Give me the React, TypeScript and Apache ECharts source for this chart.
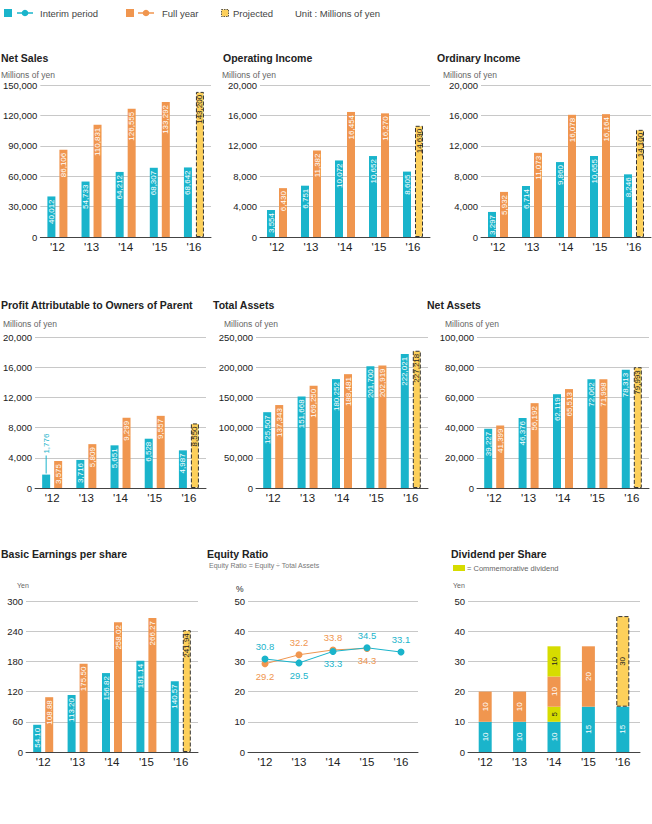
import React, { useEffect, useRef } from 'react';
import * as echarts from 'echarts';

const CYAN = '#1ab4cb';
const ORANGE = '#f0964f';
const PROJ = '#fdd05b';
const COMM = '#d6dc00';
const FONT = '"Liberation Sans", Arial, Helvetica, sans-serif';

const years = ["'12", "'13", "'14", "'15", "'16"];

const netSalesInterim = [40012, 54733, 64212, 68307, 68642];
const netSalesFull = [86106, 110831, 126555, 133292, 143200];
const opIncomeInterim = [3554, 6751, 10072, 10652, 8605];
const opIncomeFull = [6430, 11382, 16454, 16270, 14630];
const ordIncomeInterim = [3297, 6714, 9860, 10655, 8246];
const ordIncomeFull = [5932, 11073, 16078, 16164, 14100];
const profitInterim = [1776, 3716, 5651, 6528, 4987];
const profitFull = [3575, 5809, 9299, 9557, 8550];
const totalAssetsInterim = [125507, 151668, 180252, 201700, 222021];
const totalAssetsFull = [137343, 169250, 188481, 202919, 227218];
const netAssetsInterim = [39227, 46376, 62119, 72062, 78313];
const netAssetsFull = [41399, 56192, 65513, 71998, 79993];
const epsInterim = [54.10, 113.20, 156.82, 181.14, 140.57];
const epsFull = [108.88, 175.50, 258.02, 266.27, 241.94];
const equityInterim = [30.8, 29.5, 33.3, 34.5, 33.1];
const equityFull = [29.2, 32.2, 33.8, 34.3, null];
const divInterim = [10, 10, 10, 15, 15];
const divCommInterim = [null, null, 5, null, null];
const divFull = [10, 10, 10, 20, 30];
const divCommFull = [null, null, 10, null, null];
const projectedIndex = 4;

const fmtInt = (v: number) => Number(v).toLocaleString('en-US');
const fmt2 = (v: number) => Number(v).toFixed(2);

type Panel = {
  title: string; unit: string; tx: number; ty: number; ux: number; uy: number;
  grid: { left: number; top: number; width: number; height: number };
  max: number; interval: number;
};

const panels: Panel[] = [
  { title: 'Net Sales', unit: 'Millions of yen', tx: 1, ty: 58, ux: 1, uy: 75, grid: { left: 40, top: 85, width: 171, height: 152 }, max: 150000, interval: 30000 },
  { title: 'Operating Income', unit: 'Millions of yen', tx: 223, ty: 58, ux: 222, uy: 75, grid: { left: 260, top: 85, width: 170, height: 152 }, max: 20000, interval: 4000 },
  { title: 'Ordinary Income', unit: 'Millions of yen', tx: 437, ty: 58, ux: 443, uy: 75, grid: { left: 481, top: 85, width: 170, height: 152 }, max: 20000, interval: 4000 },
  { title: 'Profit Attributable to Owners of Parent', unit: 'Millions of yen', tx: 1, ty: 305, ux: 3, uy: 324, grid: { left: 34, top: 337, width: 172, height: 151 }, max: 20000, interval: 4000 },
  { title: 'Total Assets', unit: 'Millions of yen', tx: 213, ty: 305, ux: 224, uy: 324, grid: { left: 256, top: 337, width: 172, height: 151 }, max: 250000, interval: 50000 },
  { title: 'Net Assets', unit: 'Millions of yen', tx: 427, ty: 305, ux: 445, uy: 324, grid: { left: 477, top: 337, width: 172, height: 151 }, max: 100000, interval: 20000 },
  { title: 'Basic Earnings per share', unit: 'Yen', tx: 1, ty: 554, ux: 17, uy: 585, grid: { left: 26, top: 601, width: 172, height: 151 }, max: 300, interval: 60 },
  { title: 'Equity Ratio', unit: '%', tx: 207, ty: 554, ux: 236, uy: 589, grid: { left: 248, top: 601, width: 170, height: 151 }, max: 50, interval: 10 },
  { title: 'Dividend per Share', unit: 'Yen', tx: 451, ty: 554, ux: 453, uy: 585, grid: { left: 468, top: 601, width: 172, height: 151 }, max: 50, interval: 10 },
];

function insideLabel(color: string, f: (v: number) => string, fontSize = 8) {
  return {
    show: true, position: 'insideTop', rotate: 90, align: 'right', verticalAlign: 'middle',
    distance: 3, color, fontSize, fontFamily: FONT,
    formatter: (p: any) => f(p.value),
  };
}

const projStyle = { color: PROJ, borderColor: '#333', borderWidth: 1, borderType: 'dashed' };

function barPair(idx: number, interim: number[], full: number[], f: (v: number) => string, special?: boolean) {
  const interimData: any[] = interim.map((v, i) => {
    if (special && i === 0) {
      // value too small to fit inside: label placed above with a leader line
      return {
        value: v,
        label: {
          position: 'top', distance: 1, align: 'left', verticalAlign: 'middle', rotate: 90,
          formatter: (p: any) => `{l|}{v|${f(p.value)}}`,
          rich: {
            l: { width: 18, height: 1, backgroundColor: CYAN },
            v: { color: CYAN, fontSize: 8, fontFamily: FONT, padding: [0, 0, 0, 2] },
          },
        },
      };
    }
    return v;
  });
  const fullData: any[] = full.map((v, i) =>
    i === projectedIndex ? { value: v, itemStyle: projStyle, label: { color: '#222' } } : v,
  );
  return [
    {
      type: 'bar', name: 'Interim period', xAxisIndex: idx, yAxisIndex: idx, data: interimData,
      barWidth: 8, barGap: '50%', itemStyle: { color: CYAN }, label: insideLabel('#fff', f),
    },
    {
      type: 'bar', name: 'Full year', xAxisIndex: idx, yAxisIndex: idx, data: fullData,
      barWidth: 8, barGap: '50%', itemStyle: { color: ORANGE }, label: insideLabel('#fff', f),
    },
  ];
}

function buildOption() {
  const grids = panels.map((p) => ({ ...p.grid }));
  const xAxes = panels.map((p, i) => ({
    type: 'category', gridIndex: i, data: years,
    axisTick: { show: false },
    axisLine: { show: true, lineStyle: { color: '#444', width: 1 } },
    axisLabel: { fontSize: 11.5, color: '#222', fontFamily: FONT, margin: 4 },
  }));
  const yAxes = panels.map((p, i) => ({
    type: 'value', gridIndex: i, min: 0, max: p.max, interval: p.interval,
    axisLine: { show: false }, axisTick: { show: false },
    splitLine: { show: true, lineStyle: { color: '#c8c8c8', width: 1 } },
    axisLabel: {
      fontSize: 9.5, color: '#222', fontFamily: FONT, margin: 3,
      formatter: (v: number) => (p.max >= 1000 ? fmtInt(v) : String(v)),
    },
  }));

  const series: any[] = [
    ...barPair(0, netSalesInterim, netSalesFull, fmtInt),
    ...barPair(1, opIncomeInterim, opIncomeFull, fmtInt),
    ...barPair(2, ordIncomeInterim, ordIncomeFull, fmtInt),
    ...barPair(3, profitInterim, profitFull, fmtInt, true),
    ...barPair(4, totalAssetsInterim, totalAssetsFull, fmtInt),
    ...barPair(5, netAssetsInterim, netAssetsFull, fmtInt),
    ...barPair(6, epsInterim, epsFull, fmt2),
  ];

  const cyanPos = ['top', 'bottom', 'bottom', 'top', 'top'];
  const orangePos = ['bottom', 'top', 'top', 'bottom', 'top'];
  const lineLabel = (color: string) => ({
    show: true, color, fontSize: 9.5, fontFamily: FONT, distance: 4,
    formatter: (p: any) => Number(p.value).toFixed(1),
  });
  series.push({
    type: 'line', name: 'Full year', xAxisIndex: 7, yAxisIndex: 7,
    data: equityFull.map((v, i) => ({ value: v, label: { position: orangePos[i] } })),
    symbol: 'circle', symbolSize: 7, itemStyle: { color: ORANGE },
    lineStyle: { color: ORANGE, width: 1 }, label: lineLabel(ORANGE),
  });
  series.push({
    type: 'line', name: 'Interim period', xAxisIndex: 7, yAxisIndex: 7,
    data: equityInterim.map((v, i) => ({ value: v, label: { position: cyanPos[i] } })),
    symbol: 'circle', symbolSize: 7, itemStyle: { color: CYAN },
    lineStyle: { color: CYAN, width: 1 }, label: lineLabel(CYAN),
  });

  const divLabel = (color: string) => ({
    show: true, position: 'inside', rotate: 90, color, fontSize: 8, fontFamily: FONT,
    formatter: (p: any) => String(p.value),
  });
  const divBar = (name: string, data: any[], color: string, labelColor: string) => ({
    type: 'bar', name, xAxisIndex: 8, yAxisIndex: 8, stack: 'div', barWidth: 13,
    data, itemStyle: { color }, label: divLabel(labelColor),
  });
  series.push(divBar('Interim period', divInterim, CYAN, '#fff'));
  series.push(divBar('Commemorative (interim)', divCommInterim, COMM, '#222'));
  series.push(divBar('Full year', divFull.map((v, i) =>
    i === projectedIndex ? { value: v, itemStyle: projStyle, label: { color: '#222' } } : v), ORANGE, '#fff'));
  series.push(divBar('Commemorative (full)', divCommFull, COMM, '#222'));

  const txt = (text: string, x: number, y: number, font: string, fill: string) => ({
    type: 'text', x, y, silent: true,
    style: { text, font, fill, verticalAlign: 'middle', align: 'left' },
  });

  const graphic: any[] = [];
  panels.forEach((p) => {
    graphic.push(txt(p.title, p.tx, p.ty, `bold 10.5px ${FONT}`, '#222'));
    graphic.push(txt(p.unit, p.ux, p.uy, `${p.unit === '%' ? 8.5 : p.unit === 'Yen' ? 7 : 8.5}px ${FONT}`, p.unit === '%' ? '#222' : '#666'));
  });
  graphic.push(txt('Equity Ratio = Equity ÷ Total Assets', 209, 565, `7px ${FONT}`, '#777'));
  graphic.push({ type: 'rect', shape: { x: 453, y: 565, width: 12, height: 6 }, style: { fill: COMM } });
  graphic.push(txt('= Commemorative dividend', 467, 568, `7.5px ${FONT}`, '#666'));

  // top legend
  graphic.push({ type: 'rect', shape: { x: 4, y: 9, width: 8, height: 8 }, style: { fill: CYAN } });
  graphic.push({ type: 'line', shape: { x1: 17, y1: 13, x2: 33, y2: 13 }, style: { stroke: CYAN, lineWidth: 1.5 } });
  graphic.push({ type: 'circle', shape: { cx: 25, cy: 13, r: 3.3 }, style: { fill: CYAN } });
  graphic.push(txt('Interim period', 40, 13.5, `9.5px ${FONT}`, '#444'));
  graphic.push({ type: 'rect', shape: { x: 126, y: 9, width: 8, height: 8 }, style: { fill: ORANGE } });
  graphic.push({ type: 'line', shape: { x1: 138, y1: 13, x2: 154, y2: 13 }, style: { stroke: ORANGE, lineWidth: 1.5 } });
  graphic.push({ type: 'circle', shape: { cx: 146, cy: 13, r: 3.3 }, style: { fill: ORANGE } });
  graphic.push(txt('Full year', 162, 13.5, `9.5px ${FONT}`, '#444'));
  graphic.push({ type: 'rect', shape: { x: 221.5, y: 9.5, width: 7, height: 7 }, style: { fill: PROJ, stroke: '#333', lineWidth: 0.8, lineDash: [1.5, 1] } });
  graphic.push(txt('Projected', 233, 13.5, `9.5px ${FONT}`, '#444'));
  graphic.push(txt('Unit : Millions of yen', 295, 13.5, `9.5px ${FONT}`, '#444'));

  return {
    animation: false,
    backgroundColor: '#fff',
    textStyle: { fontFamily: FONT },
    grid: grids,
    xAxis: xAxes,
    yAxis: yAxes,
    series,
    graphic,
  };
}

export default function App() {
  const ref = useRef<HTMLDivElement>(null);
  useEffect(() => {
    if (!ref.current) return;
    const chart = echarts.init(ref.current, undefined, { renderer: 'svg' });
    chart.setOption(buildOption() as any);
    return () => chart.dispose();
  }, []);
  return (
    <div
      ref={ref}
      style={{ position: 'absolute', left: 0, top: 0, width: 652, height: 824, background: '#fff' }}
    />
  );
}
